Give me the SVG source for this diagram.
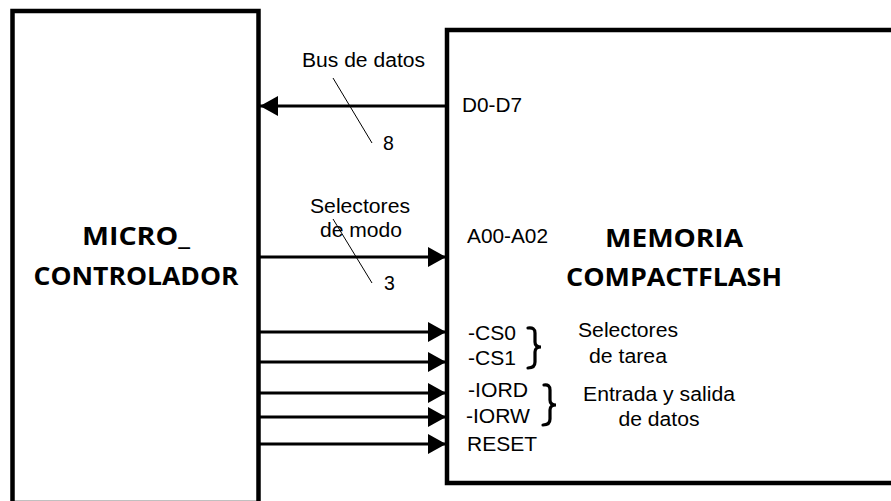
<svg xmlns="http://www.w3.org/2000/svg" width="891" height="501" viewBox="0 0 891 501">
<style>
.box{fill:#fff;stroke:#000;stroke-width:4.5}
.wire{stroke:#000;stroke-width:3;fill:none}
.slash{stroke:#000;stroke-width:1;fill:none}
.brace{stroke:#000;stroke-width:3.2;fill:none;stroke-linecap:round}
.t{font-family:"Liberation Sans",Arial,sans-serif;font-size:19.5px;fill:#000}
.b{font-family:"Open Sans","Liberation Sans",sans-serif;font-weight:bold;font-size:25.5px;fill:#000}
</style>
<defs>
<marker id="ah" markerUnits="userSpaceOnUse" markerWidth="19" markerHeight="20" refX="18" refY="10" orient="auto">
<path d="M0,0 L18,10 L0,20 z" fill="#000"/>
</marker>
</defs>
<rect width="891" height="501" fill="#fff"/>
<g id="micro">
<rect class="box" x="12.5" y="11" width="246" height="492"/>
<text class="b" x="136" y="245" text-anchor="middle" textLength="108" lengthAdjust="spacingAndGlyphs">MICRO_</text>
<text class="b" x="136" y="285" text-anchor="middle" textLength="205" lengthAdjust="spacingAndGlyphs">CONTROLADOR</text>
</g>
<g id="memoria">
<rect class="box" x="447" y="30" width="500" height="453"/>
<text class="b" x="674" y="247" text-anchor="middle" textLength="138" lengthAdjust="spacingAndGlyphs">MEMORIA</text>
<text class="b" x="674" y="286" text-anchor="middle" textLength="216" lengthAdjust="spacingAndGlyphs">COMPACTFLASH</text>
<text class="t" x="462" y="112" font-size="20" textLength="60" lengthAdjust="spacingAndGlyphs">D0-D7</text>
<text class="t" x="467" y="243" textLength="81" lengthAdjust="spacingAndGlyphs">A00-A02</text>
<text class="t" x="468" y="340" textLength="48" lengthAdjust="spacingAndGlyphs">-CS0</text>
<text class="t" x="468" y="365" textLength="48" lengthAdjust="spacingAndGlyphs">-CS1</text>
<text class="t" x="468" y="397" textLength="60" lengthAdjust="spacingAndGlyphs">-IORD</text>
<text class="t" x="466" y="423" textLength="64" lengthAdjust="spacingAndGlyphs">-IORW</text>
<text class="t" x="467" y="451" textLength="70" lengthAdjust="spacingAndGlyphs">RESET</text>
<path class="brace" d="M528,328 Q535,327 535,333 L535,342 Q535,347 541,347 Q535,347 535,352 L535,362 Q535,368 528,368"/>
<path class="brace" d="M544,385 Q550,384 550,390 L550,400 Q550,405 556,405 Q550,405 550,410 L550,419 Q550,425 543,425"/>
<text class="t" x="628" y="337" text-anchor="middle" textLength="100" lengthAdjust="spacingAndGlyphs">Selectores</text>
<text class="t" x="628" y="363" text-anchor="middle" textLength="78" lengthAdjust="spacingAndGlyphs">de tarea</text>
<text class="t" x="659" y="401" text-anchor="middle" textLength="152" lengthAdjust="spacingAndGlyphs">Entrada y salida</text>
<text class="t" x="659" y="426" text-anchor="middle" textLength="81" lengthAdjust="spacingAndGlyphs">de datos</text>
</g>
<g id="connectors">
<line class="wire" x1="447" y1="106" x2="260" y2="106" marker-end="url(#ah)"/>
<line class="wire" x1="258" y1="257" x2="446" y2="257" marker-end="url(#ah)"/>
<line class="wire" x1="258" y1="332" x2="446" y2="332" marker-end="url(#ah)"/>
<line class="wire" x1="258" y1="362" x2="446" y2="362" marker-end="url(#ah)"/>
<line class="wire" x1="258" y1="393" x2="446" y2="393" marker-end="url(#ah)"/>
<line class="wire" x1="258" y1="417" x2="446" y2="417" marker-end="url(#ah)"/>
<line class="wire" x1="258" y1="444" x2="446" y2="444" marker-end="url(#ah)"/>
<line class="slash" x1="333" y1="78" x2="372" y2="143"/>
<line class="slash" x1="333" y1="219" x2="372" y2="283"/>
<text class="t" x="302" y="67" textLength="123" lengthAdjust="spacingAndGlyphs">Bus de datos</text>
<text class="t" x="383" y="150">8</text>
<text class="t" x="360" y="213" text-anchor="middle" textLength="100" lengthAdjust="spacingAndGlyphs">Selectores</text>
<text class="t" x="361" y="237" text-anchor="middle" textLength="82" lengthAdjust="spacingAndGlyphs">de modo</text>
<text class="t" x="384" y="290">3</text>
</g>
</svg>
